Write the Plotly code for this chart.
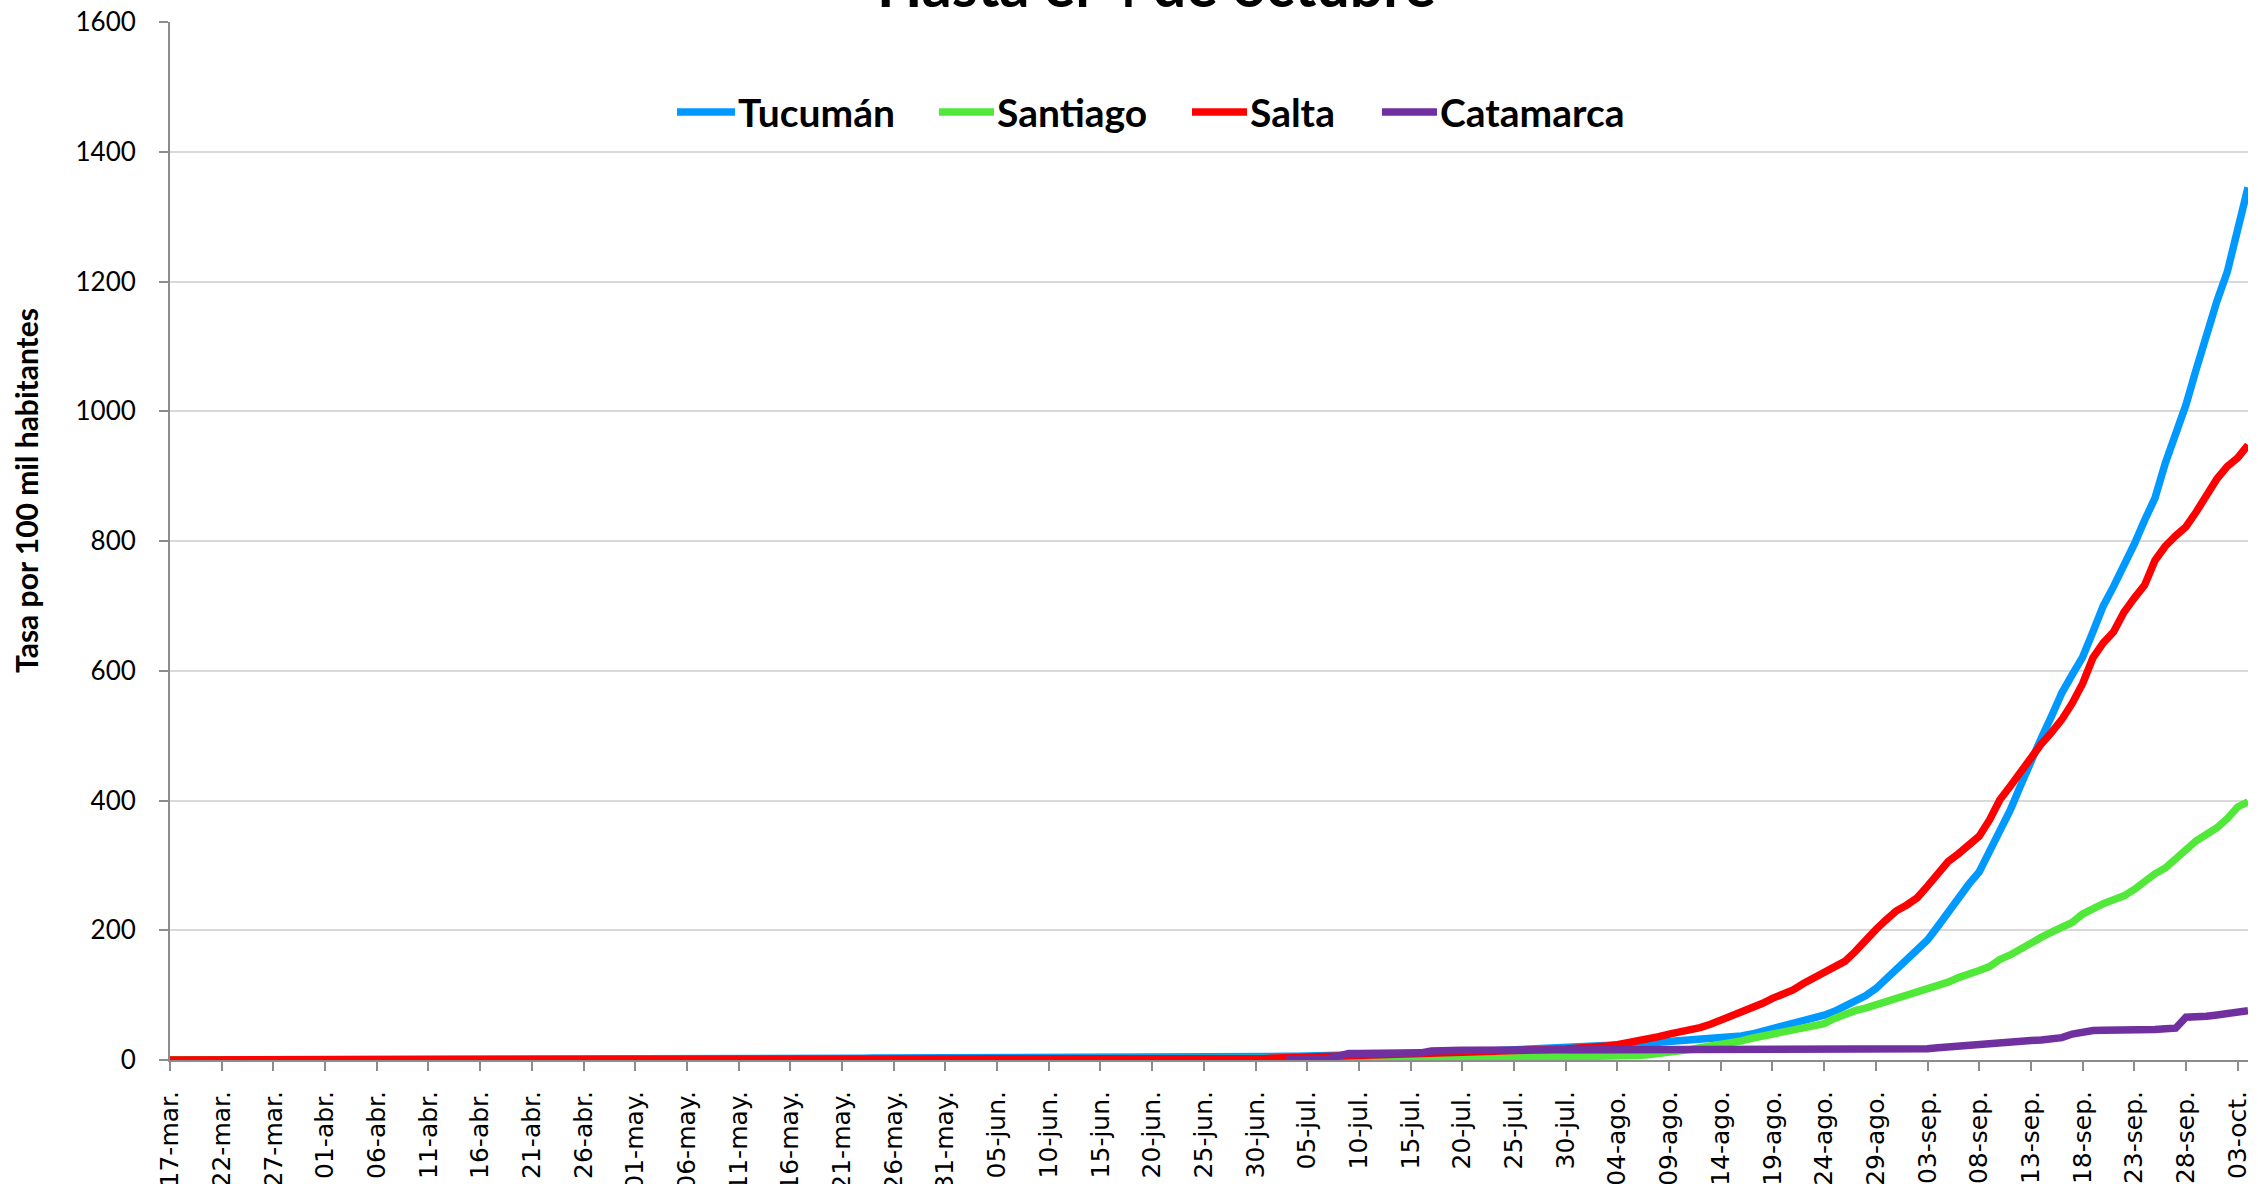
import pandas as pd
import plotly.graph_objects as go

# ---------------- data ----------------
start_date = "2020-03-17"
end_date = "2020-10-04"

series_names = ["Tucumán", "Santiago", "Salta", "Catamarca"]
series_colors = ["#0099ff", "#52e83a", "#ff0000", "#7030a0"]

tucuman = [
    0, 0, 0, 0.1, 0.1, 0.2, 0.2, 0.3, 0.4, 0.5,
    0.6, 0.7, 0.8, 0.9, 1.0, 1.0, 1.1, 1.1, 1.2, 1.2,
    1.3, 1.3, 1.3, 1.4, 1.4, 1.4, 1.5, 1.5, 1.5, 1.5,
    1.6, 1.6, 1.6, 1.7, 1.7, 1.7, 1.7, 1.8, 1.8, 1.8,
    1.8, 1.9, 1.9, 1.9, 2.0, 2.0, 2.0, 2.0, 2.1, 2.1,
    2.1, 2.2, 2.2, 2.2, 2.3, 2.3, 2.3, 2.4, 2.4, 2.4,
    2.5, 2.5, 2.6, 2.6, 2.7, 2.7, 2.8, 2.8, 2.9, 2.9,
    3.0, 3.0, 3.1, 3.1, 3.2, 3.2, 3.3, 3.3, 3.4, 3.4,
    3.5, 3.5, 3.6, 3.6, 3.7, 3.7, 3.8, 3.8, 3.9, 3.9,
    4.0, 4.0, 4.1, 4.1, 4.2, 4.2, 4.3, 4.3, 4.4, 4.4,
    4.5, 4.6, 4.7, 4.8, 4.9, 5.0, 5.2, 5.4, 5.6, 5.8,
    6.0, 6.3, 6.6, 6.9, 7.2, 7.5, 7.9, 8.3, 8.7, 9.1,
    9.5, 10.0, 10.5, 11.0, 11.5, 12.0, 12.6, 13.2, 13.8, 14.4,
    15.0, 15.6, 16.2, 16.8, 17.5, 18.2, 19.0, 19.8, 20.6, 21.4,
    22.2, 23.5, 24.8, 26.1, 27.2, 28.2, 29.2, 30.0, 30.8, 31.5,
    32.5, 34.5, 37.0, 40.0, 44.0, 48.0, 52.0, 56.0, 60.0, 64.5,
    69.0, 75.0, 82.0, 90.0, 99.0, 110.0, 124.0, 139.0, 155.0, 170.0,
    185.0, 206.0, 229.0, 252.0, 271.0, 290.0, 320.0, 352.0, 385.0, 423.0,
    462.0, 496.0, 530.0, 566.0, 594.0, 621.0, 660.0, 700.0, 730.0, 760.0,
    795.0, 832.0, 866.0, 920.0, 965.0, 1010.0, 1065.0, 1120.0, 1170.0, 1215.0,
    1280.0, 1345.0,
]

santiago = [
    0, 0, 0, 0, 0, 0, 0, 0, 0, 0,
    0, 0, 0, 0.1, 0.1, 0.1, 0.1, 0.1, 0.1, 0.1,
    0.1, 0.1, 0.1, 0.1, 0.1, 0.1, 0.1, 0.1, 0.1, 0.1,
    0.1, 0.1, 0.1, 0.2, 0.2, 0.2, 0.2, 0.2, 0.2, 0.2,
    0.2, 0.2, 0.2, 0.2, 0.2, 0.2, 0.2, 0.2, 0.2, 0.2,
    0.2, 0.2, 0.2, 0.2, 0.2, 0.2, 0.2, 0.2, 0.2, 0.2,
    0.2, 0.2, 0.2, 0.2, 0.2, 0.2, 0.2, 0.2, 0.2, 0.2,
    0.2, 0.2, 0.2, 0.2, 0.2, 0.2, 0.3, 0.3, 0.3, 0.3,
    0.3, 0.3, 0.3, 0.3, 0.3, 0.3, 0.3, 0.3, 0.3, 0.3,
    0.3, 0.3, 0.3, 0.3, 0.3, 0.3, 0.3, 0.3, 0.3, 0.3,
    0.3, 0.3, 0.4, 0.4, 0.5, 0.5, 0.6, 0.7, 0.8, 0.9,
    1.0, 1.1, 1.2, 1.3, 1.4, 1.5, 1.6, 1.7, 1.8, 1.9,
    2.0, 2.1, 2.2, 2.3, 2.4, 2.5, 2.6, 2.7, 2.8, 2.9,
    3.0, 3.1, 3.2, 3.3, 3.4, 3.5, 3.7, 3.9, 4.2, 4.6,
    5.2, 6.0, 7.0, 8.0, 9.5, 11.5, 13.5, 16.0, 19.0, 21.0,
    23.0, 26.0, 29.5, 33.5, 37.0, 39.5, 42.0, 45.0, 49.0, 52.5,
    56.0, 64.0, 71.0, 76.0, 80.0, 85.0, 90.0, 95.0, 99.0, 103.0,
    108.0, 114.0, 120.0, 127.0, 134.0, 138.0, 144.0, 155.0, 162.0, 172.0,
    182.0, 189.0, 197.0, 205.0, 212.0, 225.0, 234.0, 241.0, 247.0, 253.0,
    263.0, 276.0, 287.0, 296.0, 310.0, 325.0, 338.0, 348.0, 358.0, 372.0,
    390.0, 398.0,
]

salta = [
    0.1, 0.1, 0.1, 0.1, 0.1, 0.2, 0.2, 0.2, 0.2, 0.3,
    0.3, 0.3, 0.4, 0.4, 0.4, 0.5, 0.5, 0.5, 0.5, 0.5,
    0.5, 0.5, 0.5, 0.5, 0.5, 0.5, 0.6, 0.6, 0.6, 0.6,
    0.6, 0.6, 0.6, 0.6, 0.6, 0.6, 0.6, 0.6, 0.6, 0.6,
    0.6, 0.6, 0.6, 0.6, 0.7, 0.7, 0.7, 0.7, 0.7, 0.7,
    0.7, 0.7, 0.7, 0.7, 0.7, 0.7, 0.7, 0.7, 0.7, 0.7,
    0.7, 0.7, 0.7, 0.7, 0.7, 0.7, 0.7, 0.7, 0.7, 0.7,
    0.7, 0.7, 0.7, 0.8, 0.8, 0.8, 0.8, 0.8, 0.8, 0.8,
    0.8, 0.8, 0.8, 0.8, 0.8, 0.8, 0.9, 0.9, 0.9, 0.9,
    0.9, 0.9, 1.0, 1.0, 1.0, 1.1, 1.1, 1.2, 1.2, 1.3,
    1.3, 1.4, 1.5, 1.6, 1.8, 2.0, 2.5, 3.0, 3.6, 4.3,
    5.0, 5.3, 5.6, 6.0, 6.4, 6.8, 7.3, 7.8, 8.4, 9.2,
    10.0, 10.8, 11.5, 12.0, 12.5, 13.0, 13.5, 14.0, 14.8, 15.8,
    17.0, 17.2, 15.8, 16.2, 16.6, 17.0, 17.5, 18.0, 19.5, 21.5,
    23.5, 26.0, 29.0, 32.0, 36.0, 40.0, 43.0, 46.0, 50.0, 55.0,
    61.0, 67.0, 73.0, 80.0, 87.0, 95.0, 101.0, 108.0, 118.0, 127.0,
    134.0, 142.0, 152.0, 167.0, 186.0, 201.0, 216.0, 230.0, 239.0, 250.0,
    268.0, 288.0, 306.0, 318.0, 330.0, 345.0, 370.0, 401.0, 422.0, 445.0,
    466.0, 487.0, 505.0, 525.0, 550.0, 580.0, 620.0, 643.0, 660.0, 690.0,
    712.0, 732.0, 770.0, 792.0, 808.0, 822.0, 845.0, 870.0, 896.0, 915.0,
    928.0, 948.0,
]

catamarca = [None] * 108 + [
    1.0, 1.0,
    1.0, 1.2, 2.0, 6.0, 10.0, 10.2, 10.3, 10.4, 10.5, 10.5,
    10.6, 11.0, 14.0, 15.0, 15.0, 15.0, 15.0, 15.0, 15.0, 15.0,
    15.0, 15.0, 15.0, 15.0, 15.0, 15.0, 15.0, 15.5, 16.0, 16.0,
    16.0, 16.0, 16.0, 16.0, 16.0, 16.0, 16.0, 16.0, 16.0, 16.0,
    16.0, 16.0, 16.0, 16.0, 16.0, 16.0, 16.0, 16.0, 16.0, 16.0,
    16.0, 16.0, 16.0, 16.0, 16.0, 16.0, 16.0, 16.0, 16.3, 16.8,
    17.5, 19.0, 20.5, 22.0, 22.5, 23.0, 24.0, 25.5, 27.5, 29.0,
    30.0, 31.0, 32.5, 34.5, 40.0, 43.5, 45.5, 46.0, 46.0, 45.5,
    45.0, 46.0, 47.0, 48.0, 49.0, 66.0, 66.0, 67.5, 69.5, 71.0,
    72.5, 76.0,
]

tick_labels = [
    "17-mar.", "22-mar.", "27-mar.", "01-abr.", "06-abr.", "11-abr.", "16-abr.",
    "21-abr.", "26-abr.", "01-may.", "06-may.", "11-may.", "16-may.", "21-may.",
    "26-may.", "31-may.", "05-jun.", "10-jun.", "15-jun.", "20-jun.", "25-jun.",
    "30-jun.", "05-jul.", "10-jul.", "15-jul.", "20-jul.", "25-jul.", "30-jul.",
    "04-ago.", "09-ago.", "14-ago.", "19-ago.", "24-ago.", "29-ago.", "03-sep.",
    "08-sep.", "13-sep.", "18-sep.", "23-sep.", "28-sep.", "03-oct.",
]

title_text = "Hasta el 4 de octubre"
y_title = "Tasa por 100 mil habitantes"

# ---------------- figure ----------------
dates = pd.date_range(start_date, end_date, freq="D")
series_values = [tucuman, santiago, salta, catamarca]

W, H = 2258, 1184
ML, MR, MT, MB = 170, 10, 22, 124
plot_w = W - ML - MR
plot_h = H - MT - MB


def px_x(px):
    return (px - ML) / plot_w


def px_y(py):
    return (H - MB - py) / plot_h


fig = go.Figure()
for name, color, vals in zip(series_names, series_colors, series_values):
    fig.add_trace(go.Scatter(
        x=dates, y=vals, name=name, mode="lines",
        line=dict(color=color, width=7.5),
        showlegend=False, connectgaps=False,
    ))

FONT = "Lato"

fig.update_layout(
    width=W, height=H,
    margin=dict(l=ML, r=MR, t=MT, b=MB, pad=0),
    paper_bgcolor="white", plot_bgcolor="white",
    font=dict(family=FONT, color="black"),
)

fig.update_xaxes(
    type="date",
    range=[dates[0], dates[-1]],
    tickmode="array",
    tickvals=dates[::5],
    ticktext=tick_labels,
    tickangle=-90,
    tickfont=dict(family="DejaVu Sans", size=25, color="black"),
    ticks="outside", ticklen=9, tickwidth=2, tickcolor="#8c8c8c",
    showline=True, linecolor="#8c8c8c", linewidth=2,
    showgrid=False, zeroline=False,
    automargin=False,
    ticklabelstandoff=10,
)

fig.update_yaxes(
    range=[0, 1600], dtick=200, tick0=0,
    tickfont=dict(family=FONT, size=26, color="black"),
    ticks="outside", ticklen=9, tickwidth=2, tickcolor="#8c8c8c",
    showline=True, linecolor="#8c8c8c", linewidth=2,
    showgrid=True, gridcolor="#d9d9d9", gridwidth=2,
    zeroline=False, automargin=False,
    ticklabelstandoff=18,
)

annotations = [
    dict(text=f"<b>{title_text}</b>", xref="paper", yref="paper",
         x=px_x(1156), y=px_y(22), xanchor="center", yanchor="bottom",
         showarrow=False, font=dict(family=FONT, size=59, color="black")),
    dict(text=f"<b>{y_title}</b>", xref="paper", yref="paper",
         x=px_x(26), y=px_y(491), xanchor="center", yanchor="middle",
         textangle=-90, showarrow=False,
         font=dict(family=FONT, size=30, color="black")),
]

# custom legend (line sample + label)
legend_line_px = [(677, 735), (939, 994), (1192, 1247), (1382, 1437)]
legend_y_px = 112
shapes = []
for name, color, (x0, x1) in zip(series_names, series_colors, legend_line_px):
    shapes.append(dict(type="line", xref="paper", yref="paper",
                       x0=px_x(x0), x1=px_x(x1), y0=px_y(legend_y_px), y1=px_y(legend_y_px),
                       line=dict(color=color, width=7.5)))
    annotations.append(dict(text=f"<b>{name}</b>", xref="paper", yref="paper",
                            x=px_x(x1 + 1), y=px_y(legend_y_px), xanchor="left", yanchor="middle",
                            showarrow=False, font=dict(family=FONT, size=39, color="black")))

fig.update_layout(annotations=annotations, shapes=shapes)

fig.write_html(
    "out.html",
    config={"displayModeBar": False},
    post_script="document.body.style.margin='0';document.body.style.overflow='hidden';",
)
